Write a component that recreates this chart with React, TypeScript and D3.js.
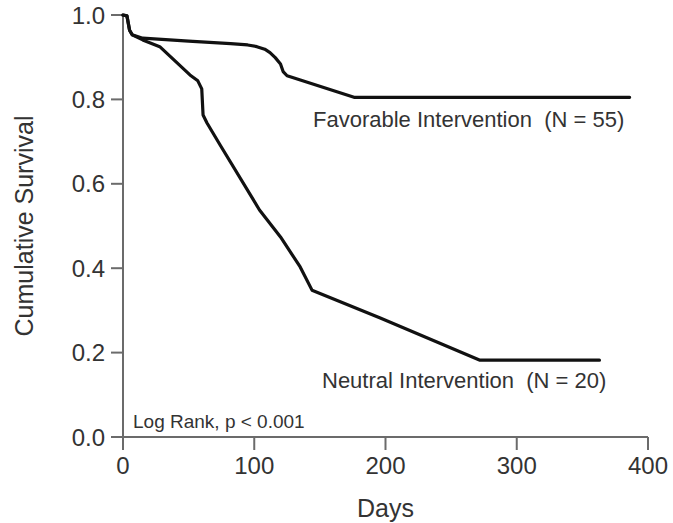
import React from "react";
import * as d3 from "d3";

// Kaplan-Meier style curves
const favorableDays = [0, 3, 5, 7, 15, 50, 82, 95, 102, 108, 112, 116, 120, 122, 125, 128, 176, 386];
const favorableSurv = [1.0, 0.998, 0.964, 0.953, 0.945, 0.938, 0.932, 0.929, 0.925, 0.919, 0.911, 0.899, 0.884, 0.866, 0.856, 0.853, 0.805, 0.805];

const neutralDays = [0, 3, 5, 7, 15, 28, 51, 57, 60, 61, 64, 74, 104, 120, 135, 144, 196, 272, 363];
const neutralSurv = [1.0, 0.998, 0.964, 0.953, 0.941, 0.925, 0.858, 0.844, 0.825, 0.763, 0.744, 0.692, 0.538, 0.474, 0.403, 0.348, 0.282, 0.182, 0.182];

const xTicks = [0, 100, 200, 300, 400];
const yTicks = [0.0, 0.2, 0.4, 0.6, 0.8, 1.0];

const xTitle = "Days";
const yTitle = "Cumulative Survival";
const favorableLabel = "Favorable Intervention  (N = 55)";
const neutralLabel = "Neutral Intervention  (N = 20)";
const statLabel = "Log Rank, p < 0.001";

const W = 673;
const H = 523;
const FONT = "'Liberation Sans', Arial, Helvetica, sans-serif";

export default function App() {
  const x = d3.scaleLinear().domain([0, 400]).range([123, 648]);
  const y = d3.scaleLinear().domain([0, 1]).range([437, 15]);

  const line = d3
    .line<[number, number]>()
    .x((d) => x(d[0]))
    .y((d) => y(d[1]))
    .curve(d3.curveLinear);

  const fav: [number, number][] = favorableDays.map((d, i) => [d, favorableSurv[i]]);
  const neu: [number, number][] = neutralDays.map((d, i) => [d, neutralSurv[i]]);

  const axisColor = "#6b6b6b";
  const textColor = "#333";
  const x0 = x(0);
  const y0 = y(0);

  return (
    <svg
      width={W}
      height={H}
      style={{ position: "absolute", left: 0, top: 0, background: "#fff" }}
      fontFamily={FONT}
    >
      {/* y axis */}
      <line x1={x0} x2={x0} y1={y(1)} y2={y0 + 13} stroke={axisColor} strokeWidth={2} />
      {yTicks.map((t) => (
        <g key={"y" + t}>
          <line x1={x0 - 12} x2={x0} y1={y(t)} y2={y(t)} stroke={axisColor} strokeWidth={2} />
          <text
            x={105}
            y={y(t)}
            dy="0.36em"
            textAnchor="end"
            fontSize={24}
            fill={textColor}
          >
            {t.toFixed(1)}
          </text>
        </g>
      ))}
      {/* x axis */}
      <line x1={x0 - 12} x2={x(400)} y1={y0} y2={y0} stroke={axisColor} strokeWidth={2} />
      {xTicks.map((t) => (
        <g key={"x" + t}>
          <line x1={x(t)} x2={x(t)} y1={y0} y2={y0 + 13} stroke={axisColor} strokeWidth={2} />
          <text x={x(t)} y={474} textAnchor="middle" fontSize={24} fill={textColor}>
            {t}
          </text>
        </g>
      ))}
      <text x={(x(0) + x(400)) / 2} y={517} textAnchor="middle" fontSize={25} fill={textColor}>
        {xTitle}
      </text>
      <text
        transform={`translate(33, ${(y(0) + y(1)) / 2}) rotate(-90)`}
        textAnchor="middle"
        fontSize={25}
        fill={textColor}
      >
        {yTitle}
      </text>

      {/* curves */}
      <path d={line(neu) || ""} fill="none" stroke="#111" strokeWidth={3.2} strokeLinejoin="round" strokeLinecap="round" />
      <path d={line(fav) || ""} fill="none" stroke="#111" strokeWidth={3.2} strokeLinejoin="round" strokeLinecap="round" />

      {/* annotations */}
      <text x={313} y={127} fontSize={22} fill={textColor} style={{ whiteSpace: "pre" }}>
        {favorableLabel}
      </text>
      <text x={322} y={388} fontSize={22} fill={textColor} style={{ whiteSpace: "pre" }}>
        {neutralLabel}
      </text>
      <text x={133} y={428} fontSize={19} fill={textColor} style={{ whiteSpace: "pre" }}>
        {statLabel}
      </text>
    </svg>
  );
}
